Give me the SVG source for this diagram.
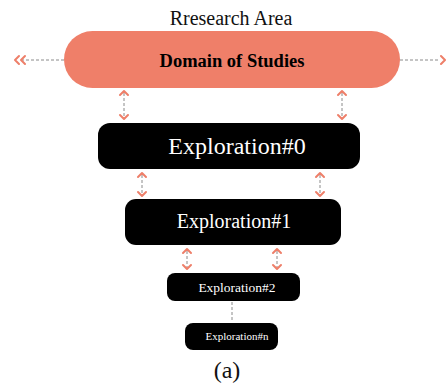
<svg xmlns="http://www.w3.org/2000/svg" width="446" height="385" viewBox="0 0 446 385">
<style>
.t{font-family:"Liberation Serif","Times New Roman",serif;text-anchor:middle}
.w{fill:#fff}
.box{fill:#000}
.dash{stroke:#8a8a8a;stroke-width:1;stroke-dasharray:3 2;fill:none}
.chev{stroke:#ee7f69;stroke-width:2;fill:none;stroke-linecap:round;stroke-linejoin:round}
</style>
<rect width="446" height="385" fill="#fff"/>
<text class="t" x="231" y="25" font-size="20" fill="#111">Rresearch Area</text>
<g id="connectors">
  <line class="dash" x1="64" y1="60" x2="22" y2="60"/>
  <polyline class="chev" points="19,56 15,60 19,64"/>
  <polyline class="chev" points="25,56 21,60 25,64"/>
  <line class="dash" x1="400" y1="60" x2="440" y2="60"/>
  <polyline class="chev" points="441,56 445,60 441,64"/>
  <g>
    <line class="dash" x1="124" y1="93" x2="124" y2="117"/>
    <polyline class="chev" points="120,95 124,91 128,95"/>
    <polyline class="chev" points="120,115 124,119 128,115"/>
    <line class="dash" x1="342" y1="93" x2="342" y2="117"/>
    <polyline class="chev" points="338,95 342,91 346,95"/>
    <polyline class="chev" points="338,115 342,119 346,115"/>
  </g>
  <g>
    <line class="dash" x1="142" y1="175" x2="142" y2="194"/>
    <polyline class="chev" points="138,177 142,173 146,177"/>
    <polyline class="chev" points="138,192 142,196 146,192"/>
    <line class="dash" x1="320" y1="175" x2="320" y2="194"/>
    <polyline class="chev" points="316,177 320,173 324,177"/>
    <polyline class="chev" points="316,192 320,196 324,192"/>
  </g>
  <g>
    <line class="dash" x1="187" y1="251" x2="187" y2="267"/>
    <polyline class="chev" points="183,253 187,249 191,253"/>
    <polyline class="chev" points="183,265 187,269 191,265"/>
    <line class="dash" x1="277" y1="251" x2="277" y2="267"/>
    <polyline class="chev" points="273,253 277,249 281,253"/>
    <polyline class="chev" points="273,265 277,269 281,265"/>
  </g>
  <line class="dash" x1="232" y1="302" x2="232" y2="322"/>
</g>
<g id="domain">
  <rect x="64" y="31" width="336" height="57" rx="28.5" fill="#ef7f69"/>
  <text class="t" x="232" y="67" font-size="18.5" font-weight="bold" fill="#000">Domain of Studies</text>
</g>
<g id="exploration0">
  <rect class="box" x="98" y="123" width="262" height="46" rx="12"/>
  <text class="t w" x="237" y="154" font-size="24">Exploration#0</text>
</g>
<g id="exploration1">
  <rect class="box" x="125" y="199" width="216" height="46" rx="11"/>
  <text class="t w" x="234" y="228" font-size="20">Exploration#1</text>
</g>
<g id="exploration2">
  <rect class="box" x="167" y="273" width="133" height="28" rx="8"/>
  <text class="t w" x="237" y="292" font-size="13.5">Exploration#2</text>
</g>
<g id="explorationn">
  <rect class="box" x="185" y="323" width="93" height="27" rx="8"/>
  <text class="t w" x="237" y="340" font-size="11">Exploration#n</text>
</g>
<text class="t" x="227" y="378" font-size="24" fill="#111">(a)</text>
</svg>
